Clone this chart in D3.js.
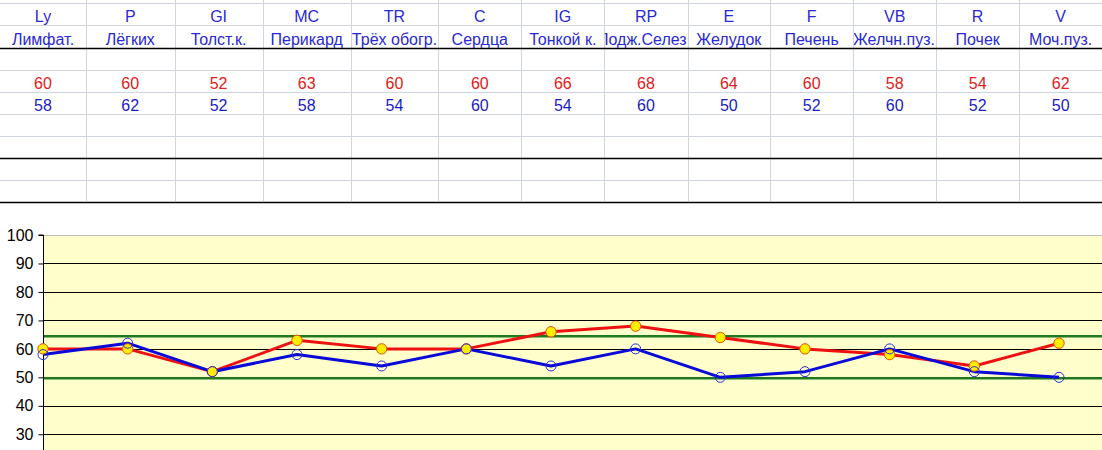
<!DOCTYPE html>
<html>
<head>
<meta charset="utf-8">
<script src="https://cdn.jsdelivr.net/npm/d3@7"></script>
<style>
  html, body { margin: 0; padding: 0; background: #fff; overflow: hidden; }
  svg { display: block; font-family: "Liberation Sans", Arial, sans-serif; }
</style>
</head>
<body>
<svg id="chart" width="1102" height="450"></svg>
<script>
// ---- data ----
const codes = ["Ly", "P", "GI", "MC", "TR", "C", "IG", "RP", "E", "F", "VB", "R", "V"];
const names = ["Лимфат.", "Лёгких", "Толст.к.", "Перикард", "Трёх обогр.", "Сердца", "Тонкой к.", "Подж.Селез", "Желудок", "Печень", "Желчн.пуз.", "Почек", "Моч.пуз."];
const seriesRed = [60, 60, 52, 63, 60, 60, 66, 68, 64, 60, 58, 54, 62];
const seriesBlue = [58, 62, 52, 58, 54, 60, 54, 60, 50, 52, 60, 52, 50];
const normBounds = [64.4, 49.7];
const yTicks = [100, 90, 80, 70, 60, 50, 40, 30];

// ---- layout ----
const W = 1102, H = 450;
const colEdges = [0, 86, 174.5, 262.7, 350.7, 438.3, 521.3, 604.3, 687.7, 770, 853.3, 936, 1019.3, 1102];
const rowEdges = [3, 25, 47.5, 69.5, 91.5, 113.5, 135.5, 157.5, 179.5, 201.5];
const blackRows = new Set([2, 7, 9]);
const plot = { left: 43, top: 235, right: 1102, zeroY: 519.7 };

const svg = d3.select("#chart");

// ---- table ----
const table = svg.append("g");
const defs = svg.append("defs");
colEdges.slice(0, -1).forEach((x0, i) => {
  defs.append("clipPath").attr("id", "cc" + i)
    .append("rect").attr("x", x0 + 0.5).attr("y", 0)
    .attr("width", colEdges[i + 1] - x0 - 1).attr("height", 202);
});
table.selectAll("line.v").data(colEdges.slice(1, -1)).join("line")
  .attr("x1", d => Math.round(d) + 0.5).attr("x2", d => Math.round(d) + 0.5)
  .attr("y1", 0).attr("y2", 201)
  .attr("stroke", "#d0d4dc").attr("stroke-width", 1);
table.selectAll("line.h").data(rowEdges).join("line")
  .attr("x1", 0).attr("x2", W)
  .attr("y1", d => Math.round(d) + 0.5).attr("y2", d => Math.round(d) + 0.5)
  .attr("stroke", (d, i) => blackRows.has(i) ? "#000" : "#d0d4dc")
  .attr("stroke-width", (d, i) => blackRows.has(i) ? 1.3 : 1);

function rowText(values, rowIdx, color) {
  const base = rowEdges[rowIdx + 1] - 3;
  values.forEach((v, i) => {
    const x0 = colEdges[i], x1 = colEdges[i + 1];
    const cx = (x0 + x1) / 2;
    const t = table.append("text")
      .attr("clip-path", "url(#cc" + i + ")")
      .attr("x", cx).attr("y", base)
      .attr("text-anchor", "middle")
      .attr("font-size", 16)
      .attr("fill", color)
      .text(v);
    const len = t.node().getComputedTextLength();
    if (len > x1 - x0 - 2) {
      t.attr("text-anchor", "end").attr("x", x1 - 1);
    }
  });
}
rowText(codes, 0, "#2a2ad2");
rowText(names, 1, "#2a2ad2");
rowText(seriesRed, 3, "#e02020");
rowText(seriesBlue, 4, "#1c1cc0");

// ---- chart ----
const x = d3.scalePoint().domain(codes).range([43, 1059]);
const y = d3.scaleLinear().domain([0, 100]).range([plot.zeroY, plot.top]);

const chart = svg.append("g");
chart.append("rect")
  .attr("x", plot.left).attr("y", plot.top)
  .attr("width", plot.right - plot.left).attr("height", H - plot.top)
  .attr("fill", "#ffffcc");
chart.append("line")
  .attr("x1", plot.left).attr("x2", plot.right)
  .attr("y1", plot.top + 0.5).attr("y2", plot.top + 0.5)
  .attr("stroke", "#c0c0c0");

chart.selectAll("line.grid").data(yTicks.filter(t => t < 100)).join("line")
  .attr("x1", plot.left).attr("x2", plot.right)
  .attr("y1", d => Math.round(y(d)) + 0.5).attr("y2", d => Math.round(y(d)) + 0.5)
  .attr("stroke", "#000").attr("stroke-width", 1);

const yAxis = d3.axisLeft(y).tickValues(yTicks).tickSize(5).tickPadding(5).tickFormat(d3.format("d"));
const ag = chart.append("g").attr("transform", `translate(${plot.left + 0.5},0)`).call(yAxis);
ag.select(".domain").attr("stroke", "#000").attr("d", `M-5,${plot.top}H0V${H}`);
ag.selectAll(".tick line").attr("stroke", "#000");
ag.selectAll(".tick text").attr("font-size", 16).attr("fill", "#000")
  .attr("font-family", "'Liberation Sans', Arial, sans-serif");

chart.selectAll("line.norm").data(normBounds).join("line")
  .attr("x1", plot.left + 1).attr("x2", plot.right)
  .attr("y1", d => y(d)).attr("y2", d => y(d))
  .attr("stroke", "#1f7a1f").attr("stroke-width", 2.5);

const line = d3.line().x((d, i) => x(codes[i])).y(d => y(d));

chart.append("path").datum(seriesRed)
  .attr("d", line).attr("fill", "none")
  .attr("stroke", "#ee1111").attr("stroke-width", 3).attr("stroke-linejoin", "round");
chart.append("path").datum(seriesBlue)
  .attr("d", line).attr("fill", "none")
  .attr("stroke", "#0a0ad8").attr("stroke-width", 3).attr("stroke-linejoin", "round");

chart.selectAll("circle.red").data(seriesRed).join("circle")
  .attr("cx", (d, i) => x(codes[i])).attr("cy", d => y(d)).attr("r", 5.2)
  .attr("fill", "#ffee00").attr("stroke", "#e05010").attr("stroke-width", 1);
chart.selectAll("circle.blue").data(seriesBlue).join("circle")
  .attr("cx", (d, i) => x(codes[i])).attr("cy", d => y(d)).attr("r", 5)
  .attr("fill", "none").attr("stroke", "#2a2ad8").attr("stroke-width", 1);
</script>
</body>
</html>
